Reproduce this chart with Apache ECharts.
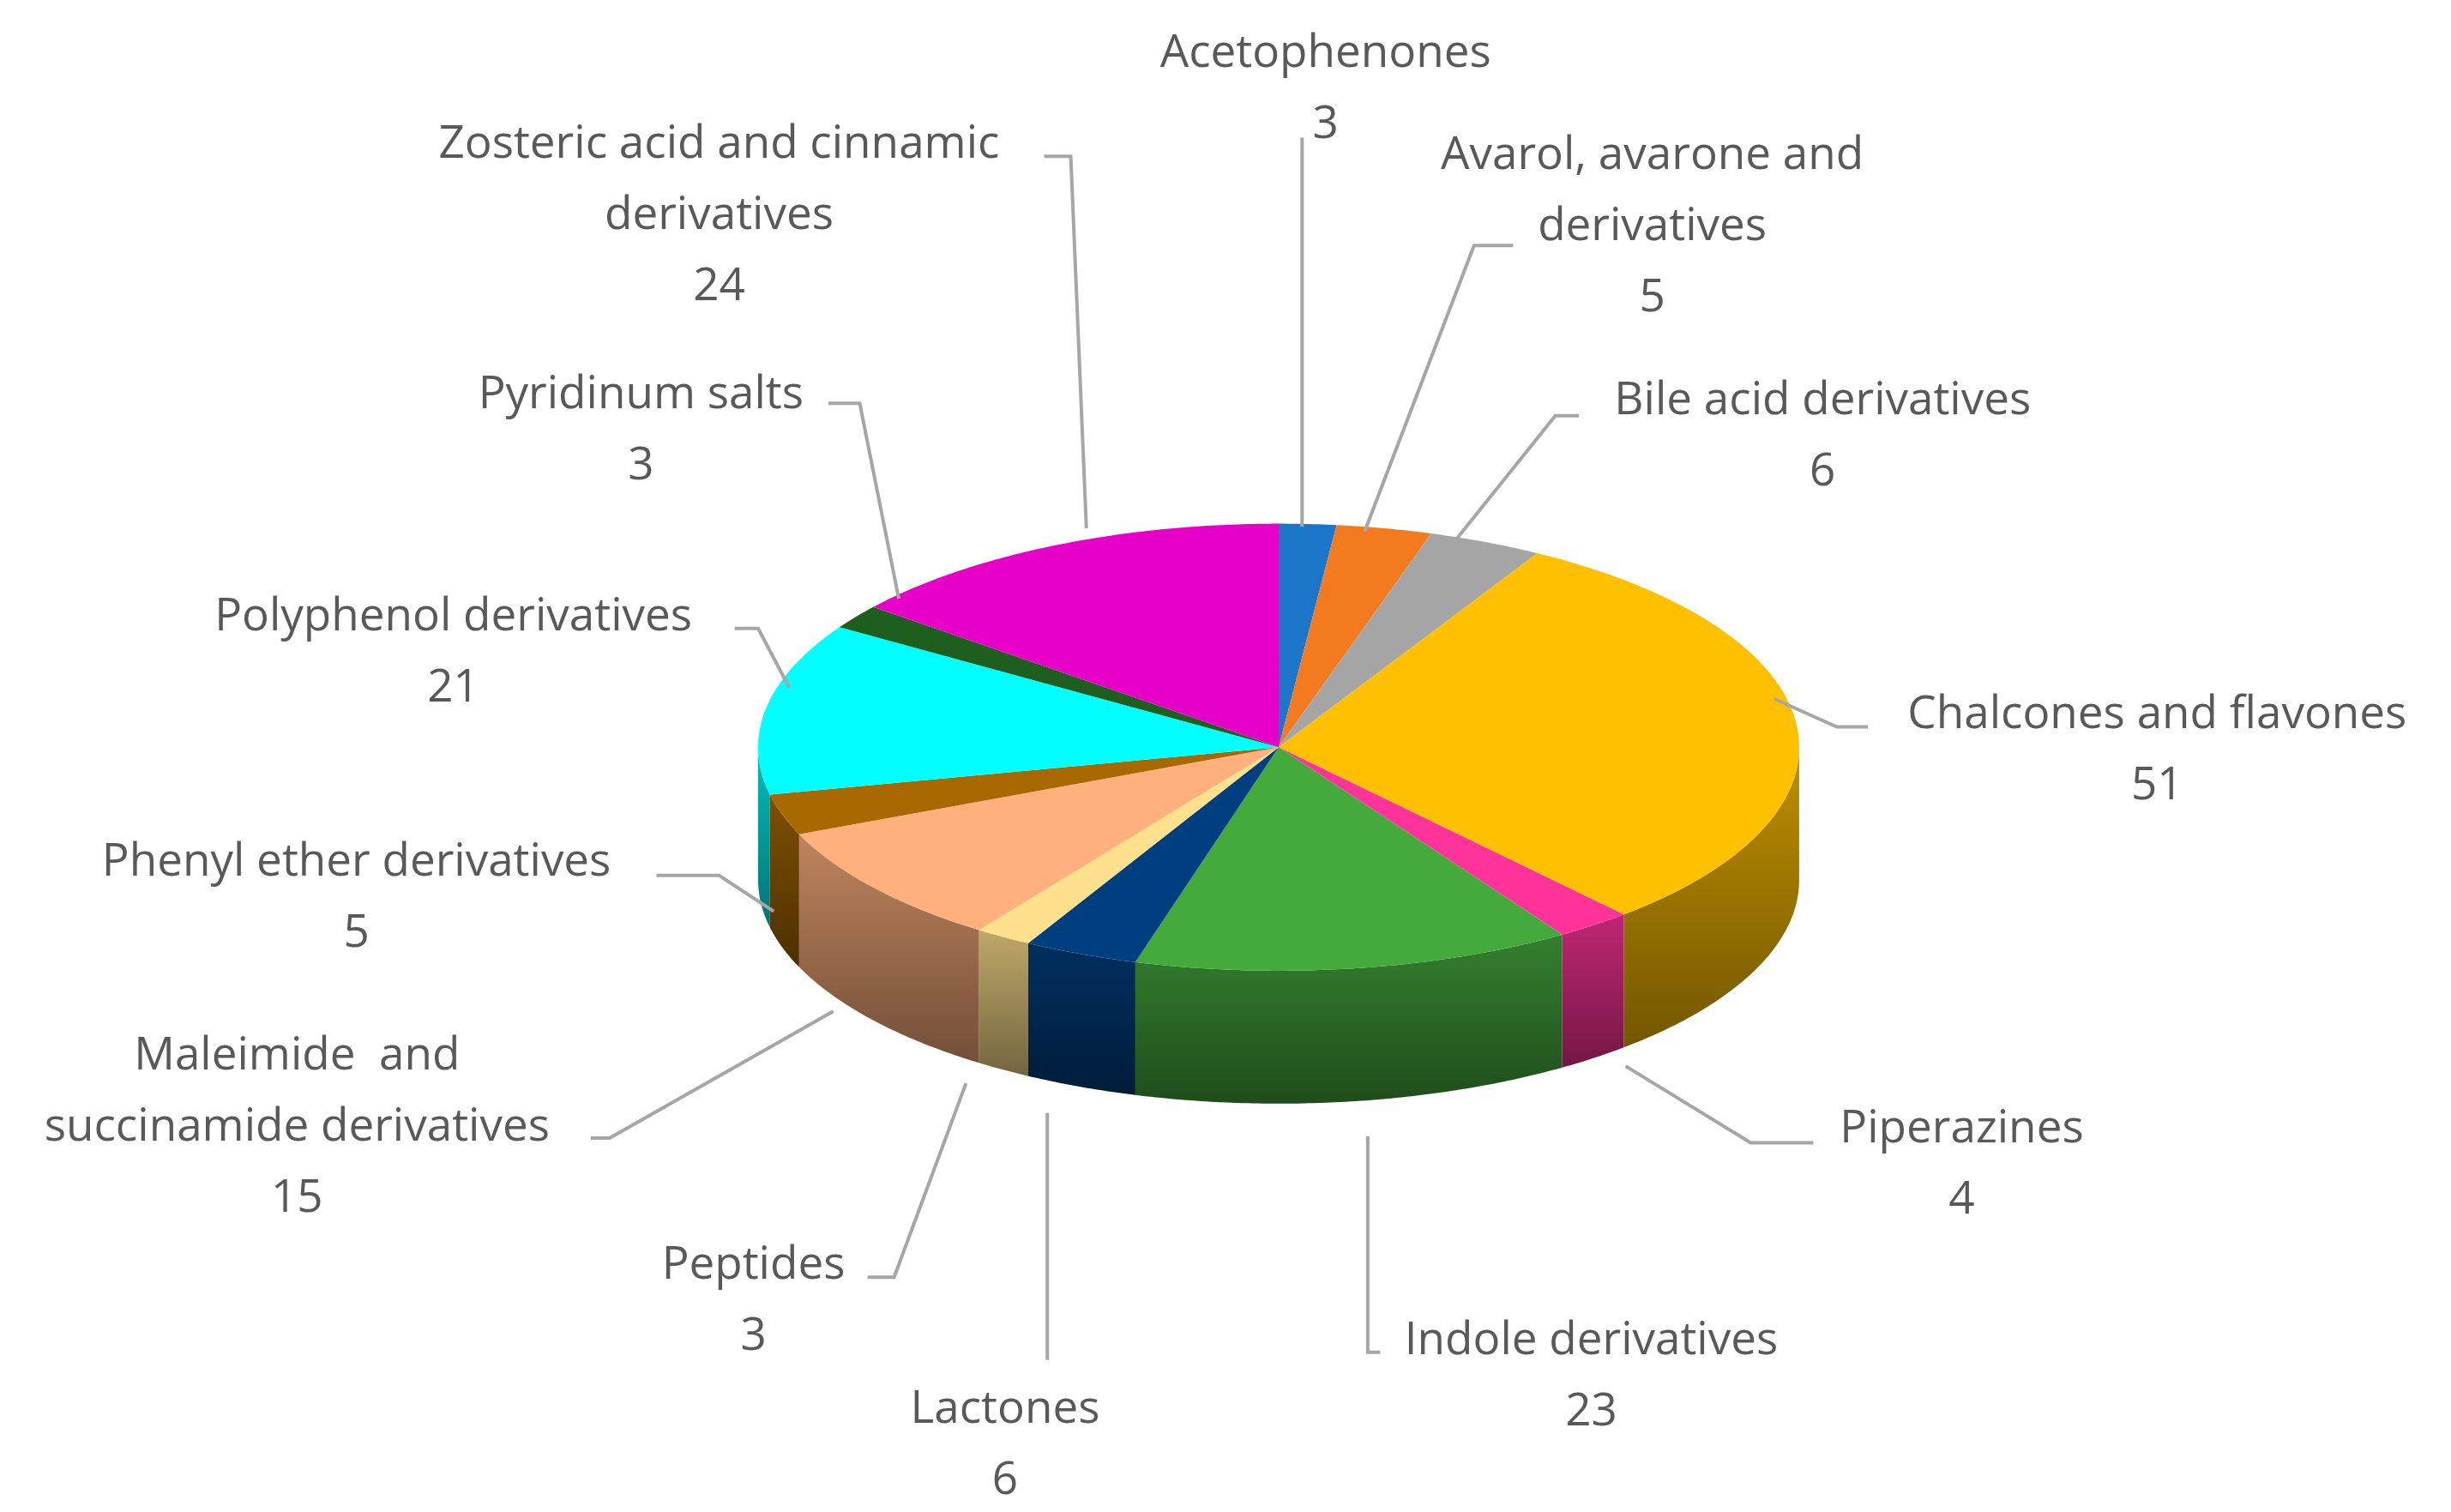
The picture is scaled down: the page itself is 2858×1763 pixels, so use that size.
<!DOCTYPE html>
<html><head><meta charset="utf-8">
<script src="https://cdn.jsdelivr.net/npm/echarts@6/dist/echarts.min.js"></script>
<style>html,body{margin:0;padding:0;background:#fff}#c{width:2858px;height:1763px}</style>
</head><body><div id="c"></div>
<script>
const categories = ["Acetophenones","Avarol, avarone and\nderivatives","Bile acid derivatives","Chalcones and flavones","Piperazines","Indole derivatives","Lactones","Peptides","Maleimide  and\nsuccinamide derivatives","Phenyl ether derivatives","Polyphenol derivatives","Pyridinum salts","Zosteric acid and cinnamic\nderivatives"];
const values = [3,5,6,51,4,23,6,3,15,5,21,3,24];
const colors = ["#1B75C8","#F47A1F","#A5A5A5","#FFC000","#FF3399","#44AA3C","#003F7F","#FFE08C","#FFB07C","#A86A00","#00FFFF","#1E5E1E","#E600C8"];

const S = 2858/1568;
const cx=818, cy=478, rx=333, ry=143, depth=85;
const labelLayout = [
  [848,12,[[833,337],[833,88]]],
  [1057,77,[[873,340],[943,157],[968,157]]],
  [1166,234,[[930,347],[995,266],[1010,266]]],
  [1380,435,[[1135,447],[1175,465],[1195,465]]],
  [1255,700,[[1040,682],[1120,731],[1160,731]]],
  [1018,835,[[875,727],[875,865],[883,865]]],
  [643,879,[[670,712],[670,870]]],
  [482,787,[[618,693],[572,817],[555,817]]],
  [190,653,[[533,647],[390,728],[378,728]]],
  [228,529,[[495,583],[460,560],[420,560]]],
  [290,372,[[505,440],[485,402],[470,402]]],
  [410,230,[[575,383],[550,258],[530,258]]],
  [460,70,[[695,338],[685,100],[668,100]]]
];

const total = values.reduce((a,b)=>a+b,0);
const starts=[]; {let acc=0; values.forEach(v=>{starts.push(acc/total*2*Math.PI); acc+=v;});}
function pt(t,dy){return [(cx+rx*Math.sin(t))*S,(cy-ry*Math.cos(t)+(dy||0))*S];}
function arc(a,b,dy){const n=Math.max(2,Math.ceil((b-a)/0.01));const p=[];for(let i=0;i<=n;i++)p.push(pt(a+(b-a)*i/n,dy));return p;}
function shade(hex,f){const n=parseInt(hex.slice(1),16);const r=Math.round(((n>>16)&255)*f),g=Math.round(((n>>8)&255)*f),b=Math.round((n&255)*f);return 'rgb('+r+','+g+','+b+')';}

function renderItem(params, api){
  const i=params.dataIndex;
  const a=starts[i], b=a+api.value(0)/total*2*Math.PI;
  const col=colors[i];
  const children=[];
  const lo=Math.max(a,Math.PI/2), hi=Math.min(b,3*Math.PI/2);
  if(hi>lo){
    const top=arc(lo,hi,0), bot=arc(lo,hi,depth).reverse();
    children.push({type:'polygon',shape:{points:top.concat(bot)},style:{fill:new echarts.graphic.LinearGradient(0,0,0,1,[{offset:0,color:shade(col,0.75)},{offset:1,color:shade(col,0.45)}])}});
  }
  const pts=[[cx*S,cy*S]].concat(arc(a,b,0));
  children.push({type:'polygon',shape:{points:pts},style:{fill:col}});
  return {type:'group',children};
}

const graphic=[];
labelLayout.forEach((L,i)=>{
  graphic.push({type:'polyline',shape:{points:L[2].map(p=>[p[0]*S,p[1]*S])},style:{stroke:'#A6A6A6',lineWidth:4,fill:null},z:10});
  graphic.push({type:'text',x:L[0]*S,y:L[1]*S,z:11,style:{text:categories[i]+"\n"+values[i],align:'center',verticalAlign:'top',font:'53px "Open Sans"',fill:'#595959',lineHeight:83}});
});

const chart=echarts.init(document.getElementById('c'));
chart.setOption({
  backgroundColor:'#fff',animation:false,
  series:[{type:'custom',coordinateSystem:'none',renderItem,data:values.map(v=>[v])}],
  graphic
});
</script></body></html>
